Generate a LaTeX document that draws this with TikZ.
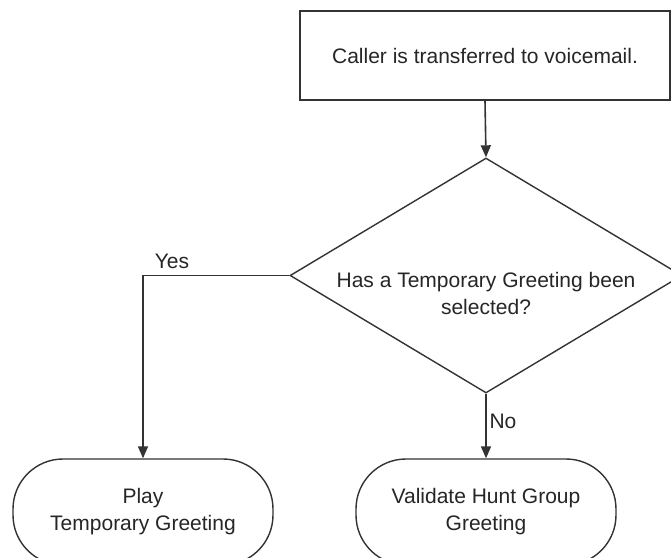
\documentclass[tikz,border=0pt]{standalone}
\usepackage{fontspec}
\setmainfont{Liberation Sans}
\usetikzlibrary{shapes.geometric,arrows.meta}
\definecolor{ln}{gray}{0.2}
\definecolor{tx}{gray}{0.15}
\tikzset{
  every node/.style={font=\fontsize{21}{27}\selectfont, text=tx},
  procbox/.style={draw=ln, line width=1.6pt, rectangle, minimum width=370pt, minimum height=89pt, inner sep=0pt},
  decision/.style={draw=ln, line width=1.4pt, diamond, minimum width=392pt, minimum height=235pt, inner sep=0pt},
  term/.style={draw=ln, line width=1.4pt, rectangle, rounded corners=50pt, minimum width=260pt, minimum height=106pt, inner sep=0pt, align=center},
  conn/.style={draw=ln, line width=1.6pt, -{Triangle[length=12pt,width=10pt]}},
  lbl/.style={inner sep=1pt}
}
\begin{document}
\begin{tikzpicture}[x=1pt,y=-1pt]
\useasboundingbox[fill=white] (0,0) rectangle (671,557);
\node[procbox] (caller) at (485,55.5) {Caller is transferred to voicemail.};
\node[decision] (dec) at (486,275.5) {};
\node[align=center] (dectext) at (486,293) {Has a Temporary Greeting been\\selected?};
\node[term] (play) at (143,512) {Play\\Temporary Greeting};
\node[term] (valid) at (486,512) {Validate Hunt Group\\Greeting};
\draw[conn] (caller.south) -- (dec.north);
\draw[conn] (dec.west) -| (play.north);
\draw[conn] (dec.south) -- (valid.north);
\node[lbl] (yes) at (172,261) {Yes};
\node[lbl] (no) at (503,421) {No};
\end{tikzpicture}
\end{document}
